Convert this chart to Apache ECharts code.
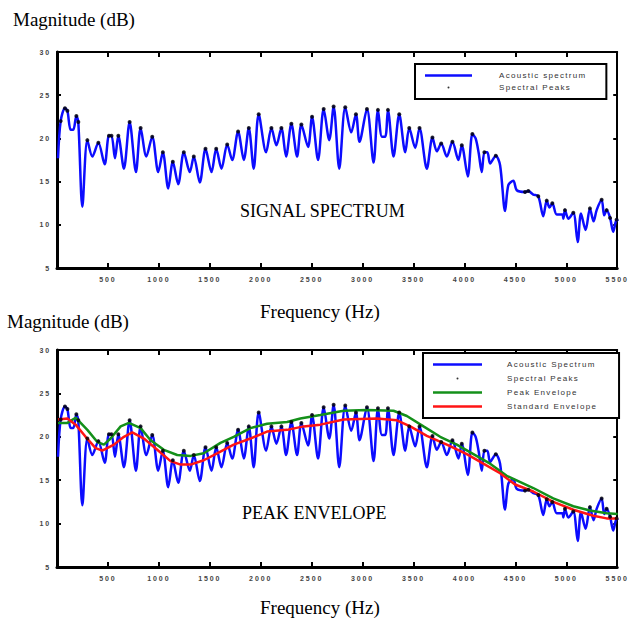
<!DOCTYPE html>
<html>
<head>
<meta charset="utf-8">
<script src="https://cdn.jsdelivr.net/npm/echarts@6/dist/echarts.min.js"></script>
<style>
  html, body { margin: 0; padding: 0; background: #fff; }
  #main { width: 628px; height: 619px; }
  /* tick labels and legend text are letter-spaced in the original */
  #main text[style*="Liberation Sans"] { letter-spacing: 1.3px; }
  #main text[style*="bold"] { letter-spacing: 1.9px; }
</style>
</head>
<body>
<div id="main"></div>
<script>
// acoustic spectrum (Hz, dB)
var freqHz = [10, 36, 78, 102, 134, 160, 190, 209, 249, 298, 347, 406, 468, 510, 535, 569, 602, 657, 713, 775,
  821, 877, 935, 994, 1039, 1092, 1137, 1190, 1245, 1304, 1343, 1402, 1458, 1517, 1563, 1615, 1671, 1720, 1778, 1834,
  1883, 1931, 1980, 2053, 2105, 2154, 2203, 2249, 2301, 2357, 2399, 2465, 2504, 2563, 2618, 2673, 2716, 2771, 2830, 2889,
  2935, 2970, 3043, 3108, 3151, 3190, 3223, 3249, 3304, 3360, 3419, 3458, 3517, 3559, 3631, 3686, 3729, 3772, 3827, 3882,
  3941, 3974, 4033, 4078, 4110, 4140, 4170, 4196, 4225, 4252, 4308, 4350, 4399, 4431, 4480, 4514, 4595, 4627, 4676, 4725,
  4774, 4808, 4835, 4863, 4906, 4961, 4971, 4987, 5020, 5069, 5112, 5144, 5190, 5232, 5268, 5298, 5347, 5372, 5396, 5430,
  5461, 5494, 5505];
var magDb = [17.7, 22.0, 23.5, 23.2, 21.0, 21.0, 22.6, 21.9, 12.1, 19.8, 17.9, 19.5, 17.0, 20.3, 20.3, 17.7, 20.3, 16.5, 21.9, 16.1,
  21.2, 17.9, 20.2, 16.1, 18.4, 14.2, 17.3, 14.7, 18.4, 16.1, 17.9, 14.9, 18.8, 16.1, 18.8, 16.5, 19.3, 17.5, 20.8, 17.5,
  21.2, 16.5, 22.8, 18.4, 21.2, 19.2, 21.2, 17.9, 21.7, 17.9, 21.6, 19.0, 22.5, 17.5, 23.4, 19.8, 23.7, 16.5, 23.6, 20.7,
  22.8, 19.6, 23.4, 17.2, 23.3, 20.2, 20.2, 23.3, 17.9, 22.8, 18.4, 21.2, 18.9, 21.2, 16.5, 20.1, 18.5, 19.4, 17.9, 19.6,
  17.5, 19.2, 15.6, 20.5, 20.0, 18.3, 16.1, 18.4, 18.4, 17.1, 18.0, 16.9, 11.6, 14.6, 15.1, 14.0, 13.8, 13.9, 13.5, 13.3,
  11.0, 12.8, 12.0, 12.5, 11.2, 11.2, 10.7, 11.7, 10.7, 11.4, 8.0, 11.3, 9.4, 11.9, 10.4, 11.7, 12.9, 11.1, 11.7, 10.8,
  9.2, 10.6, 10.4];

// spectral peaks
var peakHz = [36, 78, 102, 190, 209, 298, 406, 510, 535, 602, 713, 821, 935, 1039, 1137, 1245, 1343, 1458, 1563, 1671,
  1778, 1883, 1980, 2105, 2203, 2301, 2399, 2504, 2618, 2716, 2830, 2935, 3043, 3151, 3249, 3360, 3458, 3559, 3686, 3772,
  3882, 3974, 4078, 4196, 4308, 4595, 4627, 4725, 4808, 4863, 4987, 5069, 5232, 5347, 5396, 5430, 5494];
var peakDb = [22.0, 23.5, 23.2, 22.6, 21.9, 19.8, 19.5, 20.3, 20.3, 20.3, 21.9, 21.2, 20.2, 18.4, 17.3, 18.4, 17.9, 18.8, 18.8, 19.3,
  20.8, 21.2, 22.8, 21.2, 21.2, 21.7, 21.6, 22.5, 23.4, 23.7, 23.6, 22.8, 23.4, 23.3, 23.3, 22.8, 21.2, 21.2, 20.1, 19.4,
  19.6, 19.2, 20.5, 18.4, 18.0, 13.8, 13.9, 13.3, 12.8, 12.5, 11.7, 11.4, 11.9, 12.9, 11.7, 10.8, 10.6];

// peak envelope (green)
var peakEnvHz = [10, 102, 183, 298, 396, 461, 526, 625, 706, 821, 919, 1049, 1180, 1311, 1441, 1605, 1735, 1899, 2062, 2259,
  2389, 2585, 2814, 3043, 3304, 3435, 3598, 3762, 3925, 4088, 4252, 4415, 4676, 4872, 5069, 5232, 5396, 5505];
var peakEnvDb = [21.6, 21.6, 22.2, 20.8, 19.4, 19.1, 19.8, 21.2, 21.6, 21.0, 19.6, 18.5, 17.9, 17.8, 18.1, 19.3, 20.0, 21.0, 21.5, 21.7,
  22.1, 22.5, 23.0, 23.1, 23.0, 22.4, 21.2, 20.0, 19.1, 18.0, 16.9, 15.5, 14.1, 12.9, 12.0, 11.5, 11.2, 11.1];

// standard envelope (red)
var stdEnvHz = [10, 102, 183, 281, 379, 445, 559, 657, 739, 853, 984, 1115, 1213, 1311, 1441, 1572, 1735, 1899, 2062, 2259,
  2421, 2585, 2814, 3141, 3337, 3468, 3631, 3827, 4023, 4186, 4350, 4497, 4676, 4872, 5069, 5265, 5396, 5505];
var stdEnvDb = [22.0, 22.1, 21.4, 20.0, 18.7, 18.4, 19.1, 20.0, 20.5, 19.8, 18.5, 17.2, 16.8, 16.8, 17.3, 18.1, 19.1, 19.8, 20.6, 20.8,
  21.2, 21.4, 22.0, 22.1, 21.9, 21.2, 20.1, 19.1, 18.0, 16.9, 15.8, 14.5, 13.7, 12.5, 11.6, 10.9, 10.6, 10.6];

var xTicks = [500, 1000, 1500, 2000, 2500, 3000, 3500, 4000, 4500, 5000, 5500];
var yTicks = [5, 10, 15, 20, 25, 30];

function pairs(xs, ys) {
  return xs.map(function (x, i) { return [x, ys[i]]; });
}

var tickFont = { fontSize: 7, fontWeight: 'bold', color: '#444', fontFamily: 'Liberation Sans' };
var serif = '"Liberation Serif"';

function xAxes(grid) {
  return [
    {
      gridIndex: grid, type: 'value', min: 0, max: 5500, interval: 500, position: 'bottom',
      axisLine: { onZero: false, lineStyle: { color: '#000', width: 3 } },
      axisTick: { inside: true, length: 5, lineStyle: { color: '#000', width: 2 } },
      axisLabel: Object.assign({ margin: 8, formatter: function (v) { return xTicks.indexOf(v) >= 0 ? String(v) : ''; } }, tickFont),
      splitLine: { show: false }
    },
    {
      gridIndex: grid, type: 'value', min: 0, max: 5500, interval: 500, position: 'top',
      axisLine: { onZero: false, lineStyle: { color: '#000', width: 2 } },
      axisTick: { inside: true, length: 5, lineStyle: { color: '#000', width: 2 } },
      axisLabel: { show: false }, splitLine: { show: false }
    }
  ];
}
function yAxes(grid) {
  return [
    {
      gridIndex: grid, type: 'value', min: 5, max: 30, interval: 5, position: 'left',
      axisLine: { onZero: false, lineStyle: { color: '#000', width: 3 } },
      axisTick: { inside: true, length: 4, lineStyle: { color: '#000', width: 2 } },
      axisLabel: Object.assign({ margin: 6, formatter: function (v) { return yTicks.indexOf(v) >= 0 ? String(v) : ''; } }, tickFont),
      splitLine: { show: false }
    },
    {
      gridIndex: grid, type: 'value', min: 5, max: 30, interval: 5, position: 'right',
      axisLine: { onZero: false, lineStyle: { color: '#000', width: 2 } },
      axisTick: { inside: true, length: 4, lineStyle: { color: '#000', width: 2 } },
      axisLabel: { show: false }, splitLine: { show: false }
    }
  ];
}

// legend icons: empty moves pad the box so the mark keeps its size
var dotIcon = 'path://M0 0M16 16M6 8a2 2 0 1 0 4 0a2 2 0 1 0 -4 0Z';
var line47 = 'path://M0 0M0 8M0 2.75h47v2.5H0Z';
var line49 = 'path://M0 0M0 8M0 2.75h49v2.5H0Z';
var legendText = { fontSize: 8, color: '#333', fontFamily: 'Liberation Sans' };

var chart = echarts.init(document.getElementById('main'), null, { renderer: 'svg' });
chart.setOption({
  animation: false,
  backgroundColor: '#fff',
  grid: [
    { left: 57, top: 52, width: 561, height: 216 },
    { left: 57, top: 350, width: 561, height: 217 }
  ],
  xAxis: xAxes(0).concat(xAxes(1)),
  yAxis: yAxes(0).concat(yAxes(1)),
  legend: [
    {
      orient: 'vertical', left: 415, top: 64,
      itemWidth: 47, itemHeight: 8, itemGap: 4,
      padding: [7.5, 42, 7.5, 10],
      borderColor: '#000', borderWidth: 2, backgroundColor: '#fff',
      textStyle: Object.assign({ padding: [0, 0, 0, 22] }, legendText),
      data: [{ name: 'Acoustic spectrum', icon: line47 }, { name: 'Spectral Peaks', icon: dotIcon }]
    },
    {
      orient: 'vertical', left: 423, top: 353,
      itemWidth: 49, itemHeight: 8, itemGap: 6,
      padding: [7.5, 44, 7.5, 10],
      borderColor: '#000', borderWidth: 2, backgroundColor: '#fff',
      textStyle: Object.assign({ padding: [0, 0, 0, 20] }, legendText),
      data: [{ name: 'Acoustic Spectrum', icon: line49 }, { name: 'Spectral Peaks', icon: dotIcon },
        { name: 'Peak Envelope', icon: line49 }, { name: 'Standard Envelope', icon: line49 }]
    }
  ],
  graphic: [
    { type: 'text', left: 13, top: 10, style: { text: 'Magnitude (dB)', font: '19px ' + serif, fill: '#000' } },
    { type: 'text', left: 7, top: 312, style: { text: 'Magnitude (dB)', font: '19px ' + serif, fill: '#000' } },
    { type: 'text', left: 260, top: 302, style: { text: 'Frequency (Hz)', font: '19px ' + serif, fill: '#000' } },
    { type: 'text', left: 260, top: 598, style: { text: 'Frequency (Hz)', font: '19px ' + serif, fill: '#000' } },
    { type: 'text', left: 240, top: 202, style: { text: 'SIGNAL SPECTRUM', font: '18px ' + serif, fill: '#000' } },
    { type: 'text', left: 242, top: 504, style: { text: 'PEAK ENVELOPE', font: '18px ' + serif, fill: '#000' } }
  ],
  series: [
    {
      name: 'Acoustic spectrum', type: 'line', xAxisIndex: 0, yAxisIndex: 0,
      data: pairs(freqHz, magDb), symbol: 'none', smooth: 0.3,
      lineStyle: { color: '#0c0cff', width: 2.5 }, itemStyle: { color: '#0c0cff' }
    },
    {
      name: 'Spectral Peaks', type: 'scatter', xAxisIndex: 0, yAxisIndex: 0, z: 5,
      data: pairs(peakHz, peakDb), symbolSize: 4, itemStyle: { color: '#000' }
    },
    {
      name: 'Acoustic Spectrum', type: 'line', xAxisIndex: 2, yAxisIndex: 2,
      data: pairs(freqHz, magDb), symbol: 'none', smooth: 0.3,
      lineStyle: { color: '#0c0cff', width: 2.5 }, itemStyle: { color: '#0c0cff' }
    },
    {
      name: 'Spectral Peaks', type: 'scatter', xAxisIndex: 2, yAxisIndex: 2, z: 5,
      data: pairs(peakHz, peakDb), symbolSize: 4, itemStyle: { color: '#000' }
    },
    {
      name: 'Peak Envelope', type: 'line', xAxisIndex: 2, yAxisIndex: 2,
      data: pairs(peakEnvHz, peakEnvDb), symbol: 'none',
      lineStyle: { color: '#14901a', width: 2.5 }, itemStyle: { color: '#14901a' }
    },
    {
      name: 'Standard Envelope', type: 'line', xAxisIndex: 2, yAxisIndex: 2,
      data: pairs(stdEnvHz, stdEnvDb), symbol: 'none',
      lineStyle: { color: '#ff1414', width: 2.5 }, itemStyle: { color: '#ff1414' }
    }
  ]
});
</script>
</body>
</html>
